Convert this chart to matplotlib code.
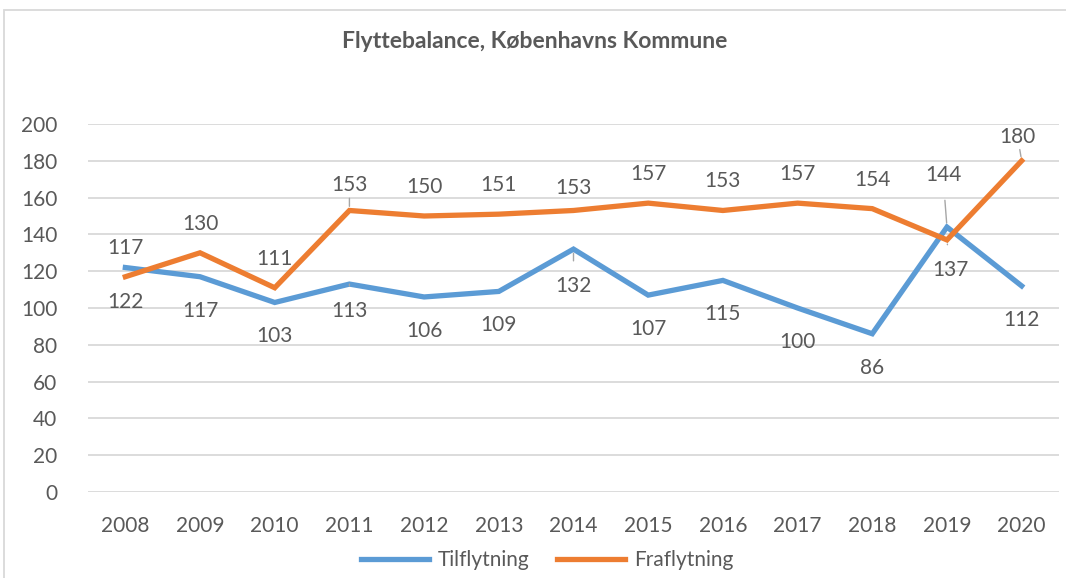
import matplotlib
matplotlib.use('Agg')
import matplotlib.pyplot as plt
from matplotlib.patches import Rectangle

years = ['2008', '2009', '2010', '2011', '2012', '2013', '2014',
         '2015', '2016', '2017', '2018', '2019', '2020']
tilflytning = [122, 117, 103, 113, 106, 109, 132, 107, 115, 100, 86, 144, 112]
fraflytning = [117, 130, 111, 153, 150, 151, 153, 157, 153, 157, 154, 137, 180]

BLUE = '#5B9BD5'
ORANGE = '#ED7D31'
TXT = '#595959'
GRID = '#D9D9D9'

plt.rcParams['font.family'] = ['Lato', 'DejaVu Sans']

fig = plt.figure(figsize=(10.66, 5.78), dpi=100)
fig.patches.append(Rectangle((4 / 1066, -0.05), 1.1, (578 - 10) / 578 + 0.05,
                             transform=fig.transFigure, fill=False,
                             edgecolor=GRID, linewidth=1.3, zorder=0))

ax = fig.add_axes([88 / 1066, 86 / 578, (1059 - 88) / 1066, (492 - 124) / 578])
x = list(range(len(years)))
ax.plot(x, tilflytning, color=BLUE, lw=3.8, solid_joinstyle='miter', label='Tilflytning', zorder=3)
ax.plot(x, fraflytning, color=ORANGE, lw=3.8, solid_joinstyle='miter', label='Fraflytning', zorder=3)

ax.set_xlim(-0.5, len(years) - 0.5)
ax.set_ylim(0, 200)
ax.set_yticks(range(0, 201, 20))
ax.set_xticks(x)
ax.set_xticklabels(years)
ax.grid(axis='y', color=GRID, lw=1.3)
ax.set_axisbelow(True)
for s in ax.spines.values():
    s.set_visible(False)
ax.tick_params(axis='both', length=0, labelsize=15, labelcolor=TXT)
ax.tick_params(axis='y', pad=22)
ax.tick_params(axis='x', pad=17)

# label offsets in pixels (dx, dy); leader lines for displaced ones
blue_off = {3: (0, -27), 6: (0, -37), 11: (-4, 52)}
orange_off = {3: (0, 25), 6: (0, 22), 11: (3, -30), 12: (-4, 24)}
blue_lead = {3, 6, 11}
orange_lead = {3, 11, 12}

def put_labels(vals, offs, default, leads):
    for i, v in enumerate(vals):
        dx, dy = offs.get(i, default)
        ap = None
        if i in leads:
            ap = dict(arrowstyle='-', color='#A6A6A6', lw=1.0, shrinkA=9, shrinkB=3)
        ax.annotate(str(v), (i, v), xytext=(dx, dy), textcoords='offset pixels',
                    ha='center', va='center', fontsize=15, color=TXT,
                    arrowprops=ap, zorder=4)

put_labels(tilflytning, blue_off, (0, -34), blue_lead)
put_labels(fraflytning, orange_off, (0, 29), orange_lead)

fig.text(535 / 1066, 1 - 42 / 578, 'Flyttebalance, Københavns Kommune',
         ha='center', va='center', fontsize=16.5, fontweight='bold', color=TXT)

fig.legend(loc='center', bbox_to_anchor=(0.513, 1 - 560 / 578), ncol=2, frameon=False,
           fontsize=15, labelcolor=TXT, handlelength=3.3, columnspacing=1.3,
           handletextpad=0.4)

fig.savefig('out.png', dpi=100)
